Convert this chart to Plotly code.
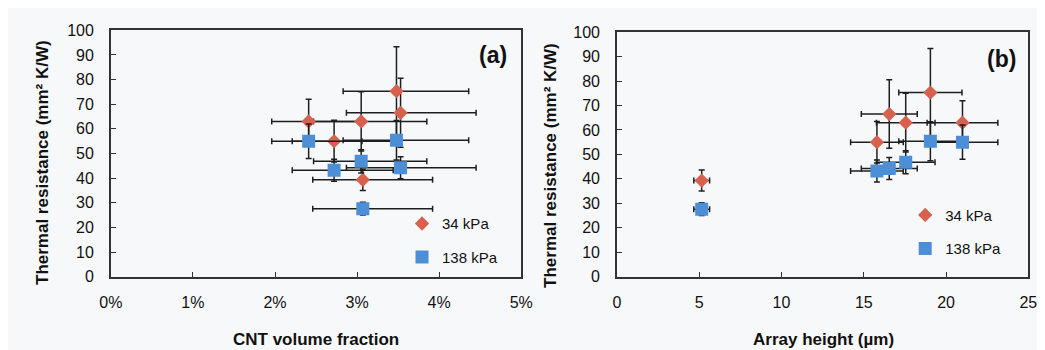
import plotly.graph_objects as go

# ---- data (six samples, same samples in both panels) ----
cnt_fraction = [0.0241, 0.0272, 0.0305, 0.0348, 0.0353, 0.0307]
cnt_err_minus = [0.0045, 0.0051, 0.0058, 0.0065, 0.0066, 0.0061]
cnt_err_plus = [0.0065, 0.0072, 0.0080, 0.0088, 0.0092, 0.0085]
array_height = [21.0, 15.8, 17.55, 19.05, 16.55, 5.15]
height_err = [2.15, 1.6, 1.78, 1.92, 1.7, 0.48]
r_34 = [63.0, 55.0, 63.0, 75.3, 66.5, 39.3]
r_34_err = [9.0, 8.5, 12.0, 18.0, 14.0, 4.3]
r_138 = [55.0, 43.2, 46.8, 55.4, 44.2, 27.6]
r_138_err = [7.0, 4.5, 4.7, 8.0, 4.5, 2.6]
series_names = ["34 kPa", "138 kPa"]
x_ticks_a = [0, 0.01, 0.02, 0.03, 0.04, 0.05]
x_ticks_b = [0, 5, 10, 15, 20, 25]
y_ticks = [0, 10, 20, 30, 40, 50, 60, 70, 80, 90, 100]

RED = "#d8604f"
BLUE = "#4d8fd6"
ERR = "#1e1e1e"
FONT = "Liberation Sans, Arial, sans-serif"
BG = "#f7f8f9"

W, H = 1045, 350


def px_x(p):
    return p / W


def px_y(p):
    return 1 - p / H


fig = go.Figure()


def add_series(x, y, ex_plus, ex_minus, ey, name, color, symbol, size, xa, ya, legend, group):
    fig.add_trace(go.Scatter(
        x=x, y=y, mode="markers", name=name,
        marker=dict(color=color, symbol=symbol, size=size, line=dict(width=0)),
        error_x=dict(type="data", array=ex_plus, arrayminus=ex_minus, symmetric=False,
                     color=ERR, thickness=1.5, width=3),
        error_y=dict(type="data", array=ey, color=ERR, thickness=1.5, width=3),
        xaxis=xa, yaxis=ya, legend=legend, legendgroup=group, showlegend=True,
    ))


# panel (a)
add_series(cnt_fraction, r_34, cnt_err_plus, cnt_err_minus, r_34_err, series_names[0], RED,
           "diamond", 11, "x", "y", "legend", "a34")
add_series(cnt_fraction, r_138, cnt_err_plus, cnt_err_minus, r_138_err, series_names[1], BLUE,
           "square", 13, "x", "y", "legend", "a138")
# panel (b)
add_series(array_height, r_34, height_err, height_err, r_34_err, series_names[0], RED,
           "diamond", 11, "x2", "y2", "legend2", "b34")
add_series(array_height, r_138, height_err, height_err, r_138_err, series_names[1], BLUE,
           "square", 13, "x2", "y2", "legend2", "b138")

axis_common = dict(
    showline=True, linecolor="#333333", linewidth=1.5, mirror=True,
    ticks="inside", ticklen=5, tickcolor="#333333", tickwidth=1.2,
    showgrid=False, zeroline=False,
    tickfont=dict(family=FONT, size=16, color="#111111"),
    fixedrange=True,
)

fig.update_layout(
    width=W, height=H,
    margin=dict(l=0, r=0, t=0, b=0),
    paper_bgcolor=BG, plot_bgcolor=BG,
    font=dict(family=FONT, color="#111111"),
    xaxis=dict(domain=[px_x(93), px_x(513)], range=[0, 0.05], tickvals=x_ticks_a,
               tickformat=".0%", anchor="y", ticklabelstandoff=10, **axis_common),
    yaxis=dict(domain=[px_y(274), px_y(15)], range=[0, 100], tickvals=y_ticks,
               anchor="x", ticklabelstandoff=12, **axis_common),
    xaxis2=dict(domain=[px_x(611), px_x(1032)], range=[0, 25], tickvals=x_ticks_b,
                anchor="y2", ticklabelstandoff=10, **axis_common),
    yaxis2=dict(domain=[px_y(274), px_y(17)], range=[0, 100], tickvals=y_ticks,
                anchor="x2", ticklabelstandoff=12, **axis_common),
    legend=dict(x=px_x(391), y=px_y(201), xanchor="left", yanchor="top",
                bgcolor="rgba(0,0,0,0)", font=dict(family=FONT, size=15, color="#111111"),
                traceorder="grouped", tracegroupgap=11, itemwidth=30),
    legend2=dict(x=px_x(906), y=px_y(192), xanchor="left", yanchor="top",
                 bgcolor="rgba(0,0,0,0)", font=dict(family=FONT, size=15, color="#111111"),
                 traceorder="grouped", tracegroupgap=11, itemwidth=30),
)

annotations = [
    dict(text="<b>(a)</b>", x=px_x(484), y=px_y(41), font=dict(size=23)),
    dict(text="<b>(b)</b>", x=px_x(1005), y=px_y(45), font=dict(size=23)),
    dict(text="<b>Thermal resistance (mm² K/W)</b>", x=px_x(23), y=px_y(154),
         textangle=-90, font=dict(size=17)),
    dict(text="<b>Thermal resistance (mm² K/W)</b>", x=px_x(543), y=px_y(157),
         textangle=-90, font=dict(size=17)),
    dict(text="<b>CNT volume fraction</b>", x=px_x(303), y=px_y(340), font=dict(size=17)),
    dict(text="<b>Array height (µm)</b>", x=px_x(822), y=px_y(340), font=dict(size=17)),
]
for a in annotations:
    a.update(xref="paper", yref="paper", showarrow=False, xanchor="center", yanchor="middle")
    a["font"].update(family=FONT, color="#111111")
fig.update_layout(annotations=annotations)

fig.write_html("out.html")
